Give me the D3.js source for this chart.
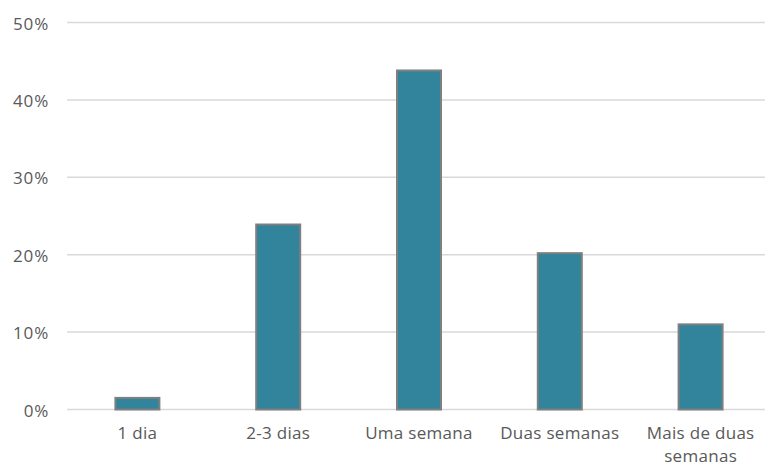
<!DOCTYPE html>
<html><head><meta charset="utf-8">
<script src="https://cdn.jsdelivr.net/npm/d3@7"></script>
<style>body{margin:0;background:#fff}svg{display:block}text{font-family:"Open Sans",sans-serif;fill:#595959}</style>
</head><body>
<svg id="c" width="765" height="463"></svg>
<script>
const categories = ["1 dia","2-3 dias","Uma semana","Duas semanas","Mais de duas semanas"];
const values = [0.015, 0.239, 0.438, 0.202, 0.110];
const yTicks = [0, 0.1, 0.2, 0.3, 0.4, 0.5];

const svg = d3.select("#c");
const x = d3.scaleBand().domain(categories).range([67, 771]).paddingInner(0).paddingOuter(0);
const y = d3.scaleLinear().domain([0, 0.5]).range([409.5, 22.5]);
const fmt = d3.format(".0%");

svg.append("g").selectAll("line").data(yTicks).join("line")
  .attr("x1", 67).attr("x2", 765)
  .attr("y1", d => y(d)).attr("y2", d => y(d))
  .attr("stroke", "#d9d9d9").attr("stroke-width", 1.5);

svg.append("g").selectAll("text").data(yTicks).join("text")
  .attr("x", 49).attr("y", d => y(d) + 7)
  .attr("text-anchor", "end").attr("font-size", 17).attr("letter-spacing", 0.8)
  .text(d => fmt(d));

const bw = 44;
svg.append("g").selectAll("rect").data(values).join("rect")
  .attr("x", (d, i) => x(categories[i]) + x.bandwidth() / 2 - bw / 2)
  .attr("y", d => y(d))
  .attr("width", bw)
  .attr("height", d => y(0) - y(d))
  .attr("fill", "#31849b")
  .attr("stroke", "#7f7f7f").attr("stroke-width", 2);

const labels = {"Mais de duas semanas": ["Mais de duas", "semanas"]};
const g = svg.append("g");
categories.forEach(c => {
  const lines = labels[c] || [c];
  const t = g.append("text")
    .attr("x", x(c) + x.bandwidth() / 2).attr("y", 439)
    .attr("text-anchor", "middle").attr("font-size", 17).attr("letter-spacing", 0.3);
  lines.forEach((l, i) => t.append("tspan").attr("x", x(c) + x.bandwidth() / 2).attr("dy", i ? 23 : 0).text(l));
});
</script>
</body></html>
